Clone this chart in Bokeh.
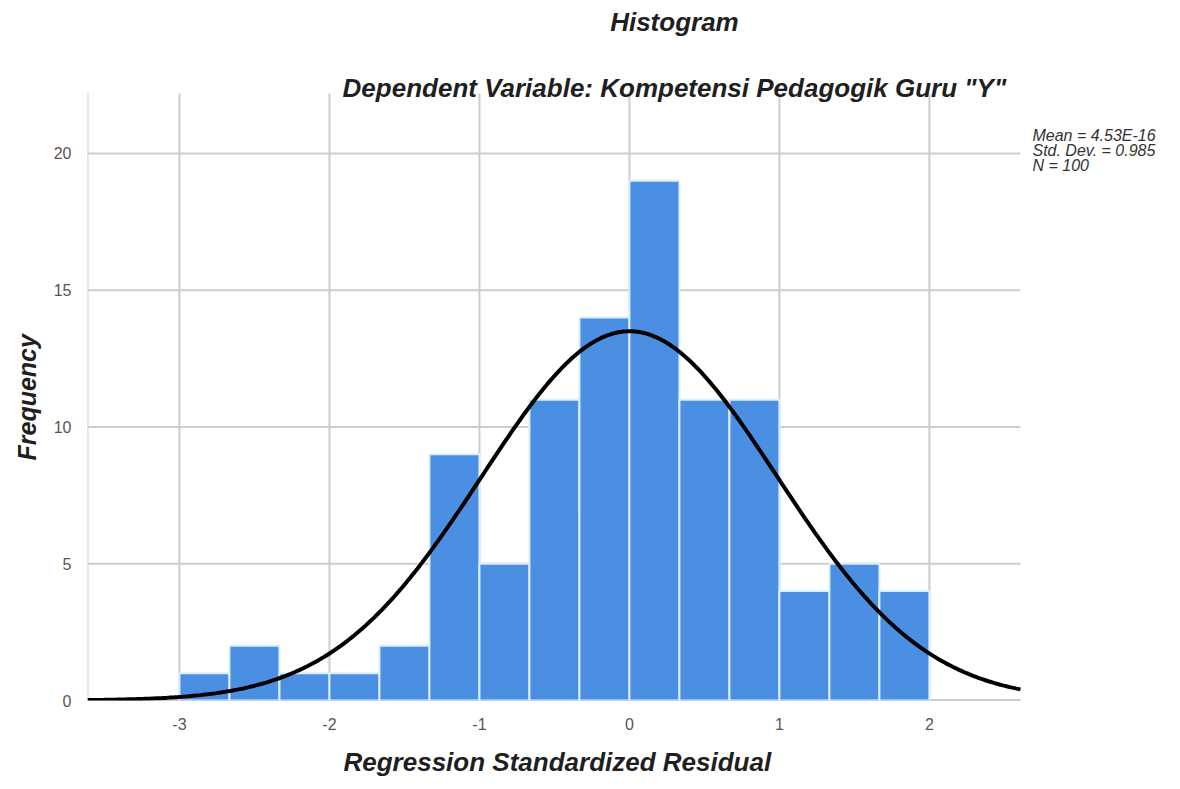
import numpy as np
from bokeh.plotting import figure
from bokeh.models import FixedTicker, Range1d, ColumnDataSource, Label, Title
from bokeh.embed import file_html
from bokeh.resources import INLINE

# ---- data ----
bin_left = [-3.0, -2.6667, -2.3333, -2.0, -1.6667, -1.3333, -1.0, -0.6667,
            -0.3333, 0.0, 0.3333, 0.6667, 1.0, 1.3333, 1.6667]
bin_width = 1.0 / 3.0
counts = [1, 2, 1, 1, 2, 9, 5, 11, 14, 19, 11, 11, 4, 5, 4]
mean_val = 4.53e-16
std_val = 0.985
n_val = 100
x_ticks = [-3, -2, -1, 0, 1, 2]
y_ticks = [0, 5, 10, 15, 20]
y_grid = [5, 10, 15, 20]
title_text = "Histogram"
subtitle_text = 'Dependent Variable: Kompetensi Pedagogik Guru "Y"'
x_label = "Regression Standardized Residual"
y_label = "Frequency"
stats_lines = ["Mean = 4.53E-16", "Std. Dev. = 0.985", "N = 100"]

# plot-area limits (in data units) and the wider canvas range
X0, X1 = -3.613, 2.607
Y0, Y1 = 0, 22.19
XR, YR = 3.674, 25.594
FONT = "Liberation Sans"
GRID = "#cdcdcd"
INK = "#1f1f1f"

p = figure(width=1180, height=789, output_backend="svg", toolbar_location=None,
           x_range=Range1d(X0, XR), y_range=Range1d(Y0, YR),
           min_border_left=87, min_border_right=0, min_border_top=0,
           min_border_bottom=89)
p.outline_line_color = None
p.background_fill_color = "white"
p.xgrid.visible = False
p.ygrid.visible = False

# axes (tick labels only; lines drawn to the plot-area limits below)
p.xaxis.ticker = FixedTicker(ticks=x_ticks)
p.yaxis.ticker = FixedTicker(ticks=y_ticks)
p.xaxis.major_label_overrides = {t: str(t) for t in x_ticks}
for ax in (p.xaxis[0], p.yaxis[0]):
    ax.axis_line_color = None
    ax.major_tick_line_color = None
    ax.minor_tick_line_color = None
    ax.major_label_text_font = FONT
    ax.major_label_text_font_size = "16px"
    ax.major_label_text_color = "#555555"
p.xaxis.major_label_standoff = 11
p.yaxis.major_label_standoff = 10

# axis titles placed over the plot area (not the wider canvas)
p.add_layout(Title(text=x_label, align="left", offset=256, standoff=24,
                   text_font=FONT, text_font_size="26px",
                   text_font_style="bold italic", text_color=INK), "below")
p.add_layout(Title(text=y_label, align="left", offset=240, standoff=20,
                   text_font=FONT, text_font_size="25px",
                   text_font_style="bold italic", text_color=INK), "left")

# grid lines and plot-area border
p.segment(x0=x_ticks, x1=x_ticks, y0=[Y0] * len(x_ticks), y1=[Y1] * len(x_ticks),
          line_color=GRID, line_width=2)
p.segment(x0=[X0] * len(y_grid), x1=[X1] * len(y_grid), y0=y_grid, y1=y_grid,
          line_color=GRID, line_width=2)
p.segment(x0=[X0], x1=[X0], y0=[Y0], y1=[Y1], line_color=GRID, line_width=2)
p.segment(x0=[X0], x1=[X1], y0=[Y0], y1=[Y0], line_color="#9a9a9a", line_width=2)

# bars
src = ColumnDataSource(dict(left=bin_left,
                            right=[b + bin_width for b in bin_left],
                            top=counts, bottom=[0] * len(counts)))
p.quad(left="left", right="right", top="top", bottom="bottom", source=src,
       fill_color="#4a8fe2", line_color="#dcefff", line_width=2)

# normal curve from the stated mean, std. dev. and N
xs = np.linspace(X0, X1, 400)
ys = n_val * bin_width * np.exp(-0.5 * ((xs - mean_val) / std_val) ** 2) / (std_val * np.sqrt(2 * np.pi))
p.line(xs, ys, line_color="black", line_width=4)

# texts
def lab(x, y, t, size, style="bold italic", align="center", color=INK):
    p.add_layout(Label(x=x, y=y, text=t, text_font=FONT, text_font_size=size,
                       text_font_style=style, text_align=align,
                       text_baseline="middle", text_color=color))

lab(0.3, 24.79, title_text, "26px")
lab(0.3, 22.38, subtitle_text, "26px")
for i, t in enumerate(stats_lines):
    lab(2.687, 20.66 - i * 0.548, t, "16px", style="italic", align="left", color="#333333")

open("out.html", "w").write(file_html(p, INLINE))
